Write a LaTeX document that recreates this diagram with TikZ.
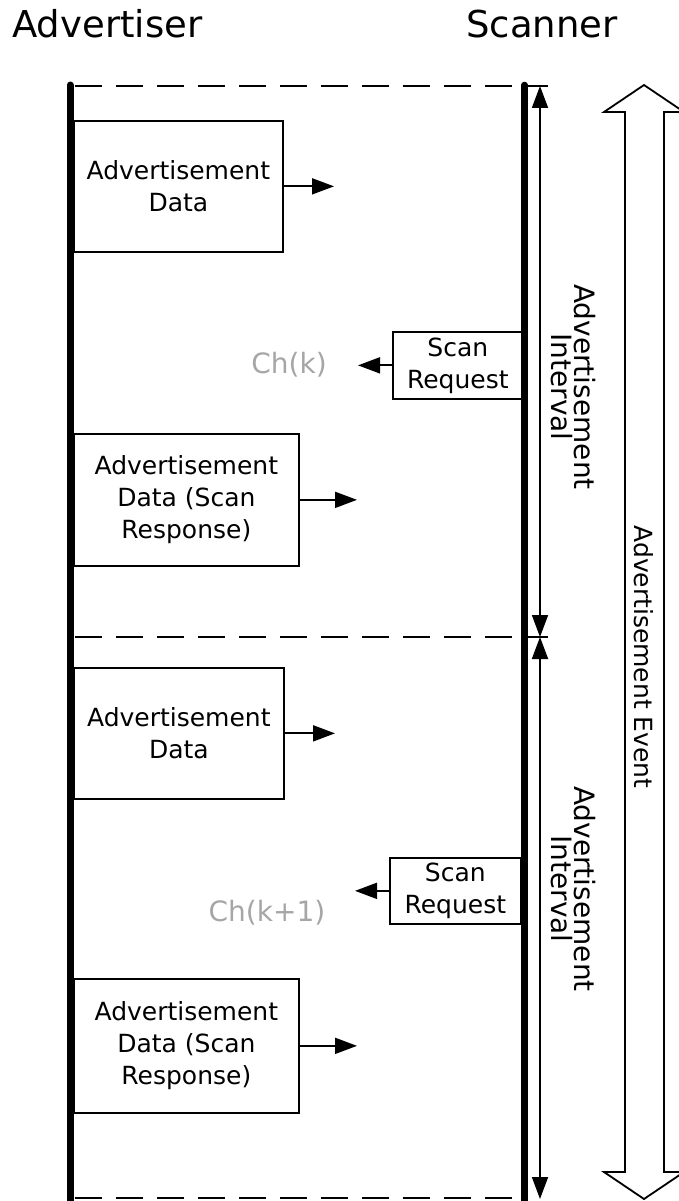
\documentclass[tikz,border=0pt]{standalone}
\usepackage{fontspec}
\setmainfont{DejaVu Sans}
\usetikzlibrary{arrows.meta}
\definecolor{chgray}{HTML}{A6A6A6}

\begin{document}
\begin{tikzpicture}[x=1pt, y=-1pt, >={Triangle[length=22pt,width=16pt]},
    wire/.style={line width=1.8pt},
    pkt/.style={draw, line width=1.7pt, align=center, inner sep=0pt,
      font=\fontsize{25}{32}\selectfont, anchor=north west},
    chan/.style={text=chgray, font=\fontsize{28}{34}\selectfont},
    ival/.style={rotate=-90, align=center, inner sep=0pt, font=\fontsize{28}{23}\selectfont},
    heading/.style={anchor=base west, inner sep=0pt, font=\fontsize{37}{44}\selectfont}]
  \useasboundingbox (0,0) rectangle (678,1201);

  % headings
  \node[heading] (advtitle) at (12,38) {Advertiser};
  \node[heading] (scantitle) at (466,38) {Scanner};

  % life lines
  \coordinate (advtop) at (70,85);
  \coordinate (advbot) at (70,1206);
  \coordinate (scntop) at (524.5,85);
  \coordinate (scnbot) at (524.5,1206);
  \draw[line width=7pt, line cap=round] (advtop) -- (advbot);
  \draw[line width=6.5pt, line cap=round] (scntop) -- (scnbot);

  % event borders
  \foreach \y/\n in {86/a, 637/b, 1198/c} {
    \coordinate (bl\n) at (70,\y);
    \coordinate (br\n) at (524,\y);
    \coordinate (tk\n) at (548,\y);
    \draw[wire, dash pattern=on 27pt off 14pt, dash phase=-5pt] (bl\n) -- (br\n);
  }
  \draw[wire] (bra) -- (tka);
  \draw[wire] (brb) -- (tkb);

  % intervals
  \coordinate (ia) at (540,86);
  \coordinate (ib) at (540,637);
  \coordinate (ic) at (540,1199);
  \draw[wire, <->] (ia) -- (ib);
  \draw[wire, <->] (ib) -- (ic);
  \node[ival] (ival1) at (573,387) {Advertisement\\Interval};
  \node[ival] (ival2) at (573,889) {Advertisement\\Interval};

  % whole event
  \draw[wire, line join=miter] (644,85) -- (684,112) -- (664,112) -- (664,1172)
    -- (684,1172) -- (644,1199) -- (604,1172) -- (625,1172) -- (625,112)
    -- (604,112) -- cycle;
  \node[rotate=-90, font=\fontsize{25}{30}\selectfont] (evt) at (644,657) {Advertisement Event};

  % first interval
  \node[pkt, minimum width=209pt, minimum height=131pt] (adv1) at (73,120) {Advertisement\\Data};
  \node[pkt, minimum width=130pt, minimum height=67pt] (req1) at (392,331) {Scan\\Request};
  \node[chan] (ch1) at (289,365) {Ch(k)};
  \node[pkt, minimum width=225pt, minimum height=132pt] (rsp1) at (73,433) {Advertisement\\Data (Scan\\Response)};
  \coordinate (adv1tip) at (334,185);
  \coordinate (req1tip) at (358,365);
  \coordinate (rsp1tip) at (357,499);
  \draw[wire, ->] (adv1.east) -- (adv1.east -| adv1tip);
  \draw[wire, ->] (req1.west) -- (req1.west -| req1tip);
  \draw[wire, ->] (rsp1.east) -- (rsp1.east -| rsp1tip);

  % second interval
  \node[pkt, minimum width=210pt, minimum height=131pt] (adv2) at (73,667) {Advertisement\\Data};
  \node[pkt, minimum width=131pt, minimum height=66pt] (req2) at (389,857) {Scan\\Request};
  \node[chan] (ch2) at (267,913) {Ch(k+1)};
  \node[pkt, minimum width=225pt, minimum height=134pt] (rsp2) at (73,978) {Advertisement\\Data (Scan\\Response)};
  \coordinate (adv2tip) at (335,733);
  \coordinate (req2tip) at (355,890);
  \coordinate (rsp2tip) at (357,1045);
  \draw[wire, ->] (adv2.east) -- (adv2.east -| adv2tip);
  \draw[wire, ->] (req2.west) -- (req2.west -| req2tip);
  \draw[wire, ->] (rsp2.east) -- (rsp2.east -| rsp2tip);
\end{tikzpicture}
\end{document}
